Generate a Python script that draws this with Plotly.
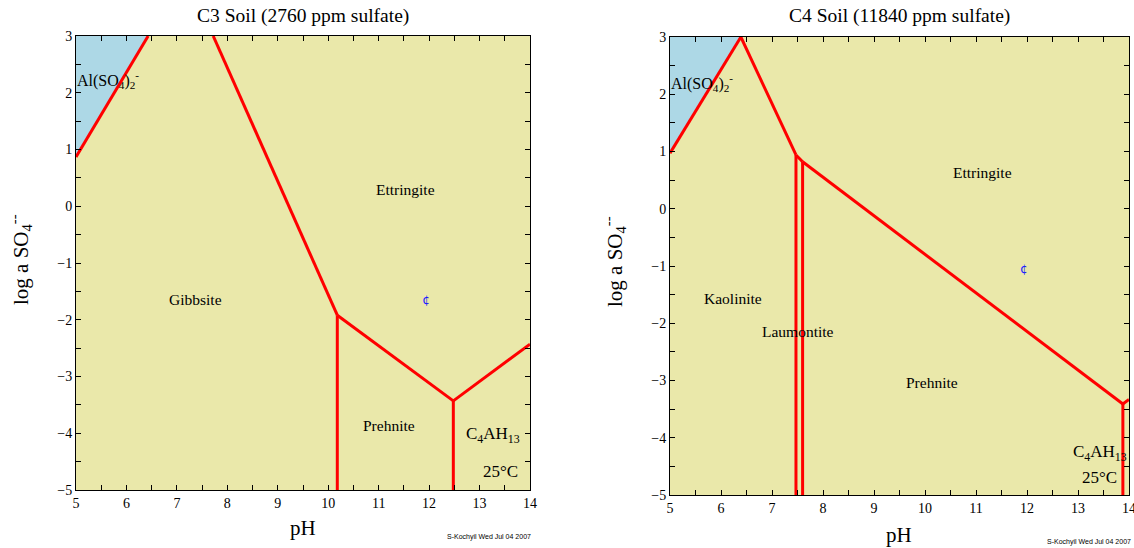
import plotly.graph_objects as go

# ---- C3 soil (2760 ppm sulfate): phase boundaries, (pH, log a SO4--) ----
c3_al_ph = [5.0, 6.43]
c3_al_log = [0.87, 3.0]
c3_gib_ett_ph = [7.72, 10.18]
c3_gib_ett_log = [3.0, -1.92]
c3_gib_pre_ph = [10.18, 10.18]
c3_gib_pre_log = [-1.92, -5.0]
c3_ett_pre_ph = [10.18, 12.48]
c3_ett_pre_log = [-1.92, -3.43]
c3_pre_c4_ph = [12.48, 12.48]
c3_pre_c4_log = [-3.43, -5.0]
c3_ett_c4_ph = [12.48, 14.0]
c3_ett_c4_log = [-3.43, -2.43]
c3_point_ph = [11.94]
c3_point_log = [-1.67]

# ---- C4 soil (11840 ppm sulfate) ----
c4_al_ph = [5.0, 6.39]
c4_al_log = [0.97, 3.0]
c4_kao_ett_ph = [6.39, 7.47]
c4_kao_ett_log = [3.0, 0.94]
c4_kao_lau_ph = [7.47, 7.47]
c4_kao_lau_log = [0.94, -5.0]
c4_lau_ett_ph = [7.47, 7.60]
c4_lau_ett_log = [0.94, 0.82]
c4_lau_pre_ph = [7.60, 7.60]
c4_lau_pre_log = [0.82, -5.0]
c4_ett_pre_ph = [7.60, 13.88]
c4_ett_pre_log = [0.82, -3.41]
c4_pre_c4_ph = [13.88, 13.88]
c4_pre_c4_log = [-3.41, -5.0]
c4_ett_c4_ph = [13.88, 14.0]
c4_ett_c4_log = [-3.41, -3.33]
c4_point_ph = [11.94]
c4_point_log = [-1.07]

PH_RANGE = [5, 14]
LOG_RANGE = [-5, 3]

SERIF = "Liberation Serif, Times New Roman, serif"
RED = "#ff0000"
FIELD = "#eae8aa"
AQUEOUS = "#add8e6"

fig = go.Figure()


def add_panel(xa, ya, al_ph, al_log, bounds, pt_ph, pt_log):
    # aqueous Al(SO4)2- field: top-left corner bounded by the red line
    fig.add_trace(go.Scatter(
        x=[PH_RANGE[0], al_ph[0], al_ph[1], PH_RANGE[0]],
        y=[LOG_RANGE[1], al_log[0], al_log[1], LOG_RANGE[1]],
        fill="toself", fillcolor=AQUEOUS, mode="none",
        xaxis=xa, yaxis=ya, hoverinfo="skip"))
    for ph, lg in [(al_ph, al_log)] + bounds:
        fig.add_trace(go.Scatter(
            x=ph, y=lg, mode="lines", line=dict(color=RED, width=3),
            xaxis=xa, yaxis=ya, hoverinfo="skip"))
    fig.add_trace(go.Scatter(
        x=pt_ph, y=pt_log, mode="text", text=["¢"],
        textfont=dict(color="#1a1aff", size=12, family="DejaVu Sans"),
        xaxis=xa, yaxis=ya, hoverinfo="skip"))


add_panel("x", "y", c3_al_ph, c3_al_log, [
    (c3_gib_ett_ph, c3_gib_ett_log),
    (c3_gib_pre_ph, c3_gib_pre_log),
    (c3_ett_pre_ph, c3_ett_pre_log),
    (c3_pre_c4_ph, c3_pre_c4_log),
    (c3_ett_c4_ph, c3_ett_c4_log),
], c3_point_ph, c3_point_log)

add_panel("x2", "y2", c4_al_ph, c4_al_log, [
    (c4_kao_ett_ph, c4_kao_ett_log),
    (c4_kao_lau_ph, c4_kao_lau_log),
    (c4_lau_ett_ph, c4_lau_ett_log),
    (c4_lau_pre_ph, c4_lau_pre_log),
    (c4_ett_pre_ph, c4_ett_pre_log),
    (c4_pre_c4_ph, c4_pre_c4_log),
    (c4_ett_c4_ph, c4_ett_c4_log),
], c4_point_ph, c4_point_log)

W, H = 1134, 548

axis_common = dict(
    showline=True, linecolor="black", linewidth=1, mirror="ticks",
    ticks="inside", ticklen=5, tickcolor="black", tickwidth=1,
    showgrid=False, zeroline=False, automargin=False,
    ticklabeloverflow="allow",
    tickfont=dict(family=SERIF, size=14, color="black"),
    minor=dict(ticks="inside", ticklen=5, dtick=0.5, tickcolor="black", showgrid=False),
)

fig.update_layout(
    width=W, height=H, autosize=False,
    margin=dict(l=0, r=0, t=0, b=0, pad=0),
    paper_bgcolor="white", plot_bgcolor=FIELD,
    showlegend=False,
    xaxis=dict(domain=[76 / W, 530 / W], range=PH_RANGE, dtick=1, anchor="y", **axis_common),
    yaxis=dict(domain=[58 / H, 512 / H], range=LOG_RANGE, dtick=1, anchor="x", **axis_common),
    xaxis2=dict(domain=[670 / W, 1129 / W], range=PH_RANGE, dtick=1, anchor="y2", **axis_common),
    yaxis2=dict(domain=[53 / H, 511 / H], range=LOG_RANGE, dtick=1, anchor="x2", **axis_common),
)

ann = []


def label(text, x, y, xref, yref, size=15.5, xanchor="center", family=SERIF, angle=0, color="black"):
    ann.append(dict(text=text, x=x, y=y, xref=xref, yref=yref, showarrow=False,
                    xanchor=xanchor, yanchor="middle", textangle=angle, borderpad=0,
                    font=dict(family=family, size=size, color=color)))


# titles and axis titles (paper coordinates)
label("C3 Soil (2760 ppm sulfate)", 303 / W, 1 - 16 / H, "paper", "paper", size=19.5)
label("C4 Soil (11840 ppm sulfate)", 899 / W, 1 - 16 / H, "paper", "paper", size=19.5)
label("pH", 303 / W, 1 - 528 / H, "paper", "paper", size=21)
label("pH", 899 / W, 1 - 535 / H, "paper", "paper", size=21)
ytitle = "log a SO<sub>4</sub><sup>--</sup>"
label(ytitle, 20 / W, 1 - 260 / H, "paper", "paper", size=21, angle=-90)
label(ytitle, 614 / W, 1 - 262 / H, "paper", "paper", size=21, angle=-90)
label("S-Kochyil Wed Jul 04 2007", 489 / W, 1 - 537 / H, "paper", "paper", size=7,
      family="Liberation Sans, Arial, sans-serif")
label("S-Kochyil Wed Jul 04 2007", 1089 / W, 1 - 542 / H, "paper", "paper", size=7,
      family="Liberation Sans, Arial, sans-serif")

# field names, C3 panel
al_text = "Al(SO<sub>4</sub>)<sub>2</sub><sup>-</sup>"
label(al_text, 5.0, 2.22, "x", "y", size=16, xanchor="left")
label("Ettringite", 11.53, 0.29, "x", "y")
label("Gibbsite", 7.36, -1.65, "x", "y")
label("Prehnite", 11.21, -3.87, "x", "y")
label("C<sub>4</sub>AH<sub>13</sub>", 13.83, -4.03, "x", "y", size=17, xanchor="right")
label("25°C", 13.78, -4.68, "x", "y", size=17, xanchor="right")

# field names, C4 panel
label(al_text, 5.0, 2.2, "x2", "y2", size=16, xanchor="left")
label("Ettringite", 11.12, 0.64, "x2", "y2")
label("Kaolinite", 6.24, -1.56, "x2", "y2")
label("Laumontite", 7.51, -2.15, "x2", "y2")
label("Prehnite", 10.14, -3.04, "x2", "y2")
label("C<sub>4</sub>AH<sub>13</sub>", 13.99, -4.27, "x2", "y2", size=17, xanchor="right")
label("25°C", 13.79, -4.70, "x2", "y2", size=17, xanchor="right")

fig.update_layout(annotations=ann)

fig.write_html("out.html")
